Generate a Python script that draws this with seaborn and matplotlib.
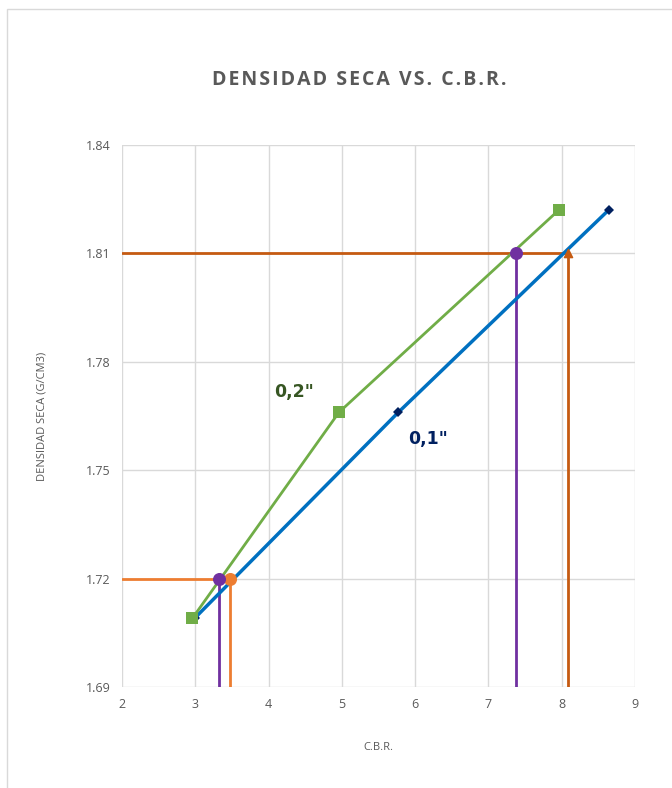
import matplotlib.pyplot as plt
import seaborn as sns
import pandas as pd
from matplotlib.patches import Rectangle

sns.set_style("white")
plt.rcParams['font.family'] = ['Open Sans', 'DejaVu Sans']

# 0,1" curve
cbr_01 = [2.99, 5.77, 8.64]
dens_01 = [1.709, 1.766, 1.822]
# 0,2" curve
cbr_02 = [2.96, 4.96, 7.96]
dens_02 = [1.709, 1.766, 1.822]

# reading lines (95% and 100% density)
dens_low = 1.72
dens_high = 1.81
cbr_low_01 = 3.48
cbr_low_02 = 3.32
cbr_high_01 = 8.08
cbr_high_02 = 7.38

x_ticks = [2, 3, 4, 5, 6, 7, 8, 9]
y_ticks = [1.69, 1.72, 1.75, 1.78, 1.81, 1.84]

df01 = pd.DataFrame({'cbr': cbr_01, 'dens': dens_01})
df02 = pd.DataFrame({'cbr': cbr_02, 'dens': dens_02})

fig = plt.figure(figsize=(6.72, 7.88), dpi=100)
ax = fig.add_axes([0.1815, 0.1282, 0.7635, 0.6878])

grey = '#595959'
ymin, xmin = 1.69, 2

# reading lines
ax.plot([xmin, cbr_low_01], [dens_low, dens_low], color='#ED7D31', lw=2, zorder=3)
ax.plot([cbr_low_01, cbr_low_01], [dens_low, ymin], color='#ED7D31', lw=2, zorder=3)
ax.plot([cbr_low_02, cbr_low_02], [dens_low, ymin], color='#7030A0', lw=2, zorder=3)
ax.plot([xmin, cbr_high_01], [dens_high, dens_high], color='#C55A11', lw=2, zorder=3)
ax.plot([cbr_high_01, cbr_high_01], [dens_high, ymin], color='#C55A11', lw=2, zorder=3)
ax.plot([cbr_high_02, cbr_high_02], [dens_high, ymin], color='#7030A0', lw=2, zorder=3)

sns.lineplot(data=df01, x='cbr', y='dens', sort=False, color='#0070C0', lw=2.5,
             marker='D', markersize=5, markerfacecolor='#002060',
             markeredgewidth=0, ax=ax, zorder=4)
sns.lineplot(data=df02, x='cbr', y='dens', sort=False, color='#70AD47', lw=2,
             marker='s', markersize=8, markeredgewidth=0, ax=ax, zorder=5)

ax.scatter([cbr_low_01], [dens_low], s=70, color='#ED7D31', zorder=6)
ax.scatter([cbr_low_02, cbr_high_02], [dens_low, dens_high], s=70, color='#7030A0', zorder=6)
ax.scatter([cbr_high_01], [dens_high], s=35, marker='^', color='#C55A11', zorder=6)

ax.text(4.62, 1.7716, '0,2"', color='#375623', fontsize=12.5, fontweight='bold',
        family='DejaVu Sans', ha='right', va='center')
ax.text(6.18, 1.7585, '0,1"', color='#002060', fontsize=12.5, fontweight='bold',
        family='DejaVu Sans', ha='center', va='center')

ax.set_xlim(2, 9)
ax.set_ylim(1.69, 1.84)
ax.set_xticks(x_ticks)
ax.set_yticks(y_ticks)
ax.set_yticklabels([f'{v:.2f}' for v in y_ticks])
ax.grid(True, color='#D9D9D9', lw=1)
for s in ax.spines.values():
    s.set_visible(False)
ax.tick_params(colors=grey, labelsize=9, length=0, pad=8)
ax.set_xlabel('C.B.R.', color=grey, fontsize=8, labelpad=22)
ax.set_ylabel('DENSIDAD SECA (G/CM3)', color=grey, fontsize=8, labelpad=28)

title = 'DENSIDAD SECA VS. C.B.R.'
fig.text(0.535, 0.898, '\u200a'.join(title), color=grey, fontsize=14,
         fontweight='bold', ha='center', va='center')

fig.patches.append(Rectangle((7 / 672, -0.05), 1.2, 1 - 9 / 788 + 0.05,
                             transform=fig.transFigure, fill=False,
                             edgecolor='#D9D9D9', lw=1))

plt.savefig('out.png', dpi=100)
